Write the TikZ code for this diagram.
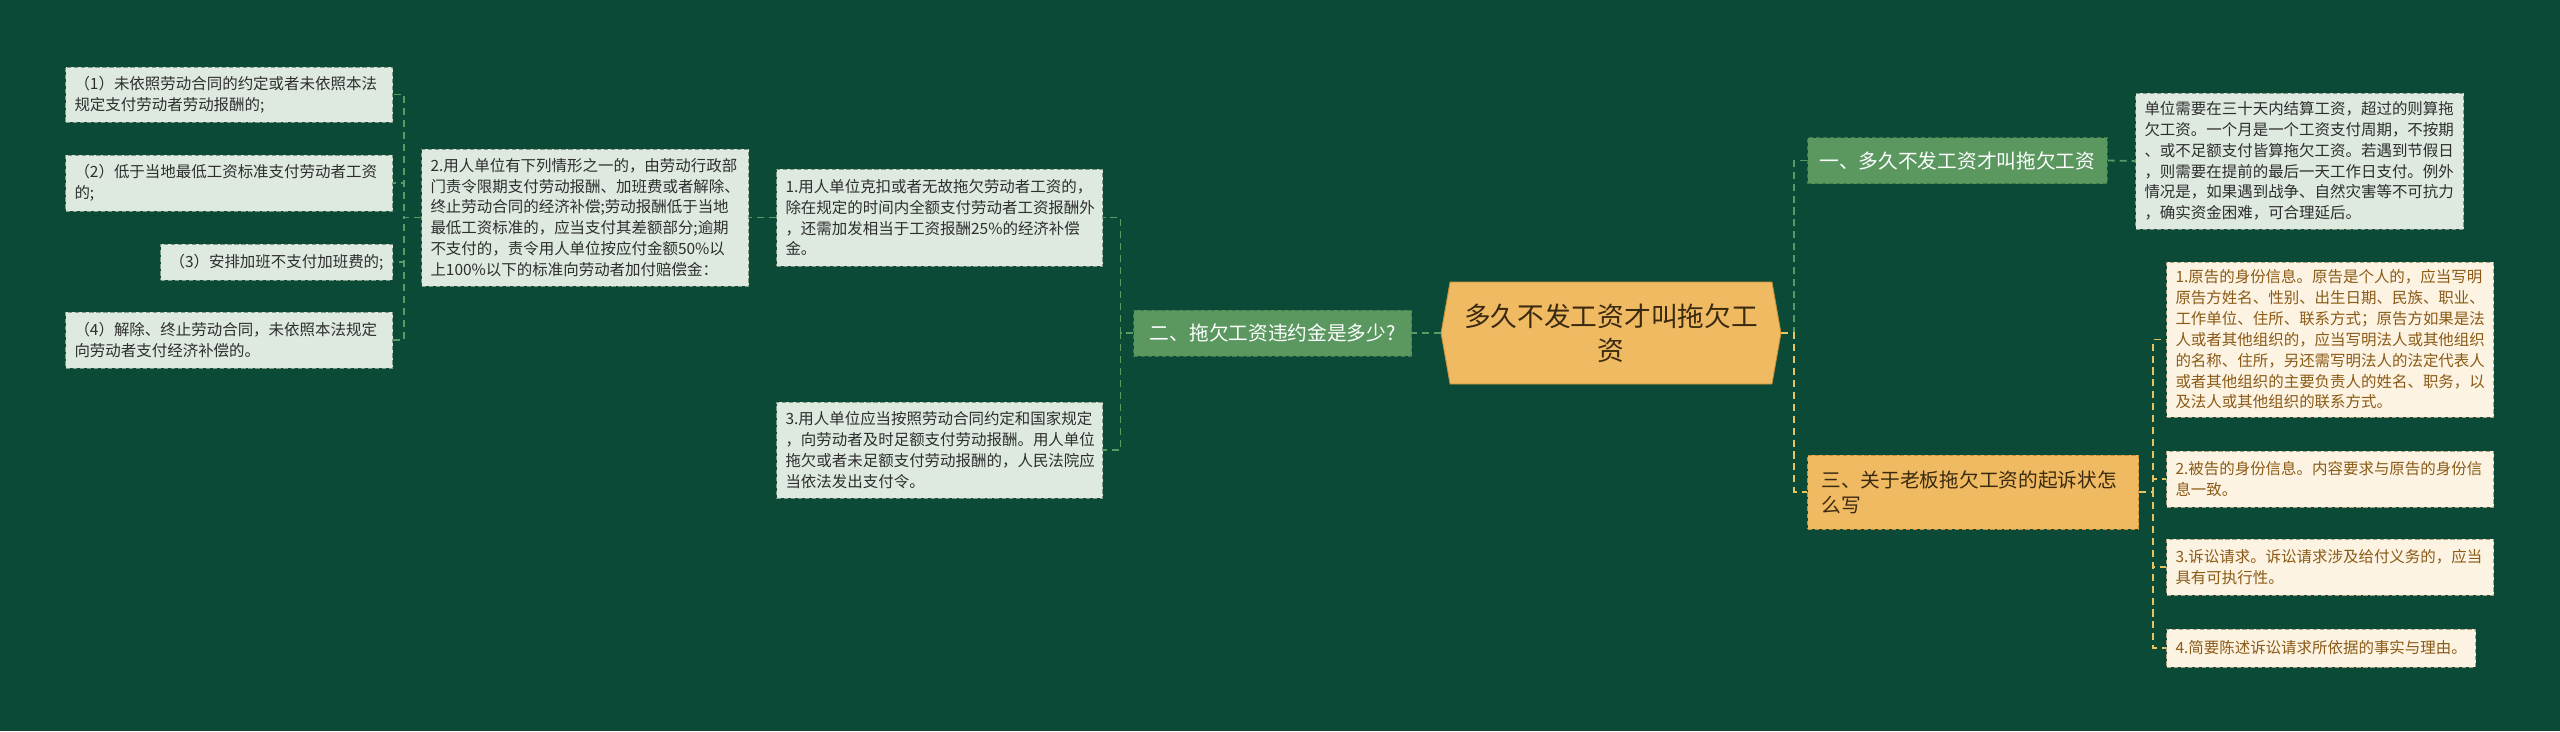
\documentclass[tikz,border=0pt]{standalone}
\usepackage{fontspec}
\setmainfont{Noto Sans CJK SC}
\usetikzlibrary{shapes.symbols}
\definecolor{bgcol}{HTML}{0B4A37}
\definecolor{brgreen}{HTML}{5A9860}
\definecolor{brline}{HTML}{3E7A4C}
\definecolor{leaffill}{HTML}{DEEAE0}
\definecolor{leafline}{HTML}{7E9A86}
\definecolor{leaftext}{HTML}{2E2E2E}
\definecolor{creamfill}{HTML}{FDF3E2}
\definecolor{creamline}{HTML}{B0A080}
\definecolor{creamtext}{HTML}{8A5A16}
\definecolor{orfill}{HTML}{F0BA62}
\definecolor{orline}{HTML}{C8903A}
\definecolor{ortext}{HTML}{3A2A10}
\definecolor{glinecol}{HTML}{5A9A64}
\definecolor{ylinecol}{HTML}{E8C460}
\newlength\pxu
\setlength\pxu{0.025cm}

\begin{document}
\begin{tikzpicture}[x=0.025cm, y=-0.025cm,
    leaf/.style={draw=leafline, dash pattern=on 3pt off 2pt, line width=0.7pt, fill=leaffill, text=leaftext, align=left, inner xsep=9\pxu, inner ysep=3\pxu, font=\fontsize{11}{14.8}\selectfont},
    cream/.style={leaf, draw=creamline, fill=creamfill, text=creamtext},
    branchg/.style={draw=brline, dash pattern=on 3pt off 2pt, line width=0.7pt, fill=brgreen, text=white, inner xsep=12\pxu, minimum height=46\pxu, font=\fontsize{14}{17.8}\selectfont},
    brancho/.style={branchg, draw=orline, fill=orfill, text=ortext, align=left},
    rootnode/.style={shape=signal, signal to=west and east, signal pointer angle=160, fill=orfill, draw=orline, line width=0.6pt, text=ortext, align=center, minimum height=102\pxu, inner xsep=14\pxu, font=\fontsize{19}{24.4}\selectfont},
    glink/.style={draw=glinecol, line width=1.3pt, dash pattern=on 5pt off 3.5pt},
    ylink/.style={glink, draw=ylinecol}]

    \fill[bgcol] (0,0) rectangle (2560,731);

    \node[rootnode] (root) at (1611,333) {多久不发工资才叫拖欠工\\资};

    \node[branchg, anchor=east, inner xsep=16\pxu] (b2) at (1412,333) {二、拖欠工资违约金是多少?};
    \node[branchg, anchor=west] (b1) at (1807,160.5) {一、多久不发工资才叫拖欠工资};
    \node[brancho, anchor=west, text width=303\pxu, inner xsep=14\pxu, minimum height=74\pxu] (b3) at (1807,492) {三、关于老板拖欠工资的起诉状怎\\么写};

    \node[leaf, anchor=east, text width=308\pxu, minimum height=97\pxu] (l1) at (1103,217.5) {1.用人单位克扣或者无故拖欠劳动者工资的，\\除在规定的时间内全额支付劳动者工资报酬外\\，还需加发相当于工资报酬25\%的经济补偿\\金。};
    \node[leaf, anchor=east, text width=308\pxu, minimum height=96\pxu] (l3) at (1103,450) {3.用人单位应当按照劳动合同约定和国家规定\\，向劳动者及时足额支付劳动报酬。用人单位\\拖欠或者未足额支付劳动报酬的，人民法院应\\当依法发出支付令。};
    \node[leaf, anchor=east, text width=309\pxu, minimum height=137\pxu] (l2) at (749,217.5) {2.用人单位有下列情形之一的，由劳动行政部\\门责令限期支付劳动报酬、加班费或者解除、\\终止劳动合同的经济补偿;劳动报酬低于当地\\最低工资标准的，应当支付其差额部分;逾期\\不支付的，责令用人单位按应付金额50\%以\\上100\%以下的标准向劳动者加付赔偿金：};

    \node[leaf, anchor=east, text width=309\pxu, minimum height=55\pxu] (s1) at (393,94.5) {（1）未依照劳动合同的约定或者未依照本法\\规定支付劳动者劳动报酬的;};
    \node[leaf, anchor=east, text width=309\pxu, minimum height=56\pxu] (s2) at (393,183) {（2）低于当地最低工资标准支付劳动者工资\\的;};
    \node[leaf, anchor=east, minimum height=36\pxu, inner xsep=9\pxu] (s3) at (393,262) {（3）安排加班不支付加班费的;};
    \node[leaf, anchor=east, text width=309\pxu, minimum height=56\pxu] (s4) at (393,340) {（4）解除、终止劳动合同，未依照本法规定\\向劳动者支付经济补偿的。};

    \node[leaf, anchor=west, text width=310\pxu, minimum height=136\pxu] (d1) at (2135,161) {单位需要在三十天内结算工资，超过的则算拖\\欠工资。一个月是一个工资支付周期，不按期\\、或不足额支付皆算拖欠工资。若遇到节假日\\，则需要在提前的最后一天工作日支付。例外\\情况是，如果遇到战争、自然灾害等不可抗力\\，确实资金困难，可合理延后。};

    \node[cream, anchor=west, text width=309\pxu, minimum height=155\pxu] (c1) at (2166,339.5) {1.原告的身份信息。原告是个人的，应当写明\\原告方姓名、性别、出生日期、民族、职业、\\工作单位、住所、联系方式；原告方如果是法\\人或者其他组织的，应当写明法人或其他组织\\的名称、住所，另还需写明法人的法定代表人\\或者其他组织的主要负责人的姓名、职务，以\\及法人或其他组织的联系方式。};
    \node[cream, anchor=west, text width=309\pxu, minimum height=56\pxu] (c2) at (2166,479) {2.被告的身份信息。内容要求与原告的身份信\\息一致。};
    \node[cream, anchor=west, text width=309\pxu, minimum height=56\pxu] (c3) at (2166,567) {3.诉讼请求。诉讼请求涉及给付义务的，应当\\具有可执行性。};
    \node[cream, anchor=west, minimum height=38\pxu] (c4) at (2166,648) {4.简要陈述诉讼请求所依据的事实与理由。};

    \draw[glink] (root.west) -- (b2.east);
    \draw[glink] (root.east) -- ++(13,0) |- (b1.west);
    \draw[ylink] (root.east) -- ++(13,0) |- (b3.west);
    \draw[glink] (b2.west) -- ++(-13,0) |- (l1.east);
    \draw[glink] (b2.west) -- ++(-13,0) |- (l3.east);
    \draw[glink] (l1.west) -- (l2.east);
    \foreach \s in {s1,s2,s3,s4}
        \draw[glink] (l2.west) -- ++(-17,0) |- (\s.east);
    \draw[glink] (b1.east) -- (d1.west);
    \foreach \c in {c1,c2,c3,c4}
        \draw[ylink] (b3.east) -- ++(14,0) |- (\c.west);
\end{tikzpicture}
\end{document}
